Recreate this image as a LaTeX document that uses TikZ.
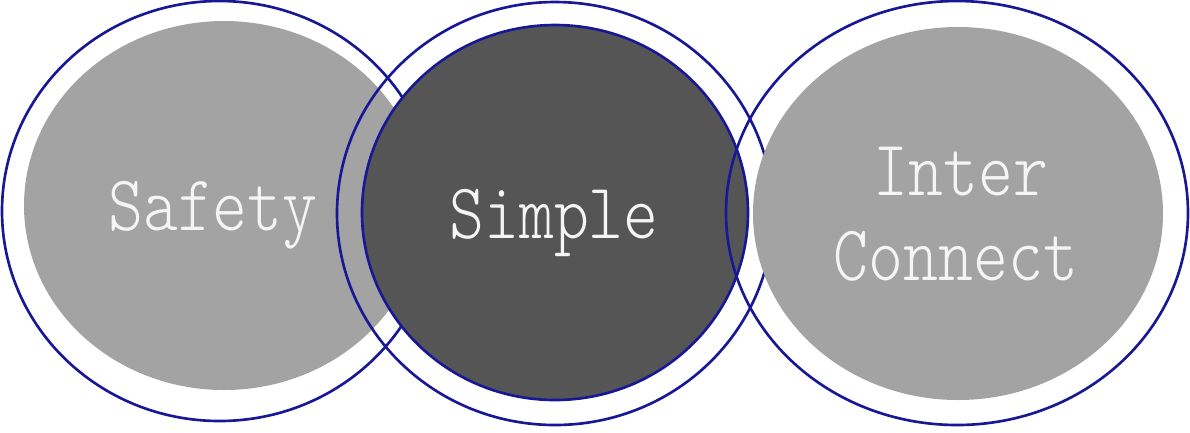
\documentclass[tikz,border=0pt]{standalone}
\usepackage{fontspec}
\setmonofont{Latin Modern Mono Light}
\usepackage{xcolor}
\definecolor{ringBlue}{RGB}{24,24,150}
\definecolor{discLight}{RGB}{163,163,163}
\definecolor{discDark}{RGB}{85,85,85}
\definecolor{labelFg}{RGB}{245,245,245}
\newcommand{\narrow}[1]{\scalebox{0.84}[1]{#1}}
\tikzset{
  ring/.style={draw=ringBlue, line width=0.75pt},
  disc/.style={fill=#1},
  label/.style={text=labelFg, inner sep=0pt, anchor=base,
    font=\ttfamily\fontsize{22.5}{24}\selectfont}
}

\begin{document}
\begin{tikzpicture}[x=0.01cm, y=-0.01cm]
    \useasboundingbox[fill=white] (0,0) rectangle (1190,432);
    % left pair
    \draw[ring] (219.5,211) ellipse [x radius=217.5, y radius=210];
    \fill[disc=discLight] (224,205.5) ellipse [x radius=200, y radius=184.5];
    % middle pair
    \draw[ring] (555,213.5) ellipse [x radius=218, y radius=211.5];
    \filldraw[disc=discDark, ring] (555,212.5) ellipse [x radius=193, y radius=187.5];
    % right pair
    \draw[ring] (957,213) ellipse [x radius=231, y radius=212];
    \fill[disc=discLight] (958,213.5) ellipse [x radius=205, y radius=186.5];
    % labels
    \node[label] (safety) at (213,230) {\narrow{Safety}};
    \node[label] (simple) at (554,238) {\narrow{Simple}};
    \node[label] (inter) at (961,195) {\narrow{Inter}};
    \node[label] (connect) at (956,280) {\narrow{Connect}};
  \end{tikzpicture}
\end{document}
